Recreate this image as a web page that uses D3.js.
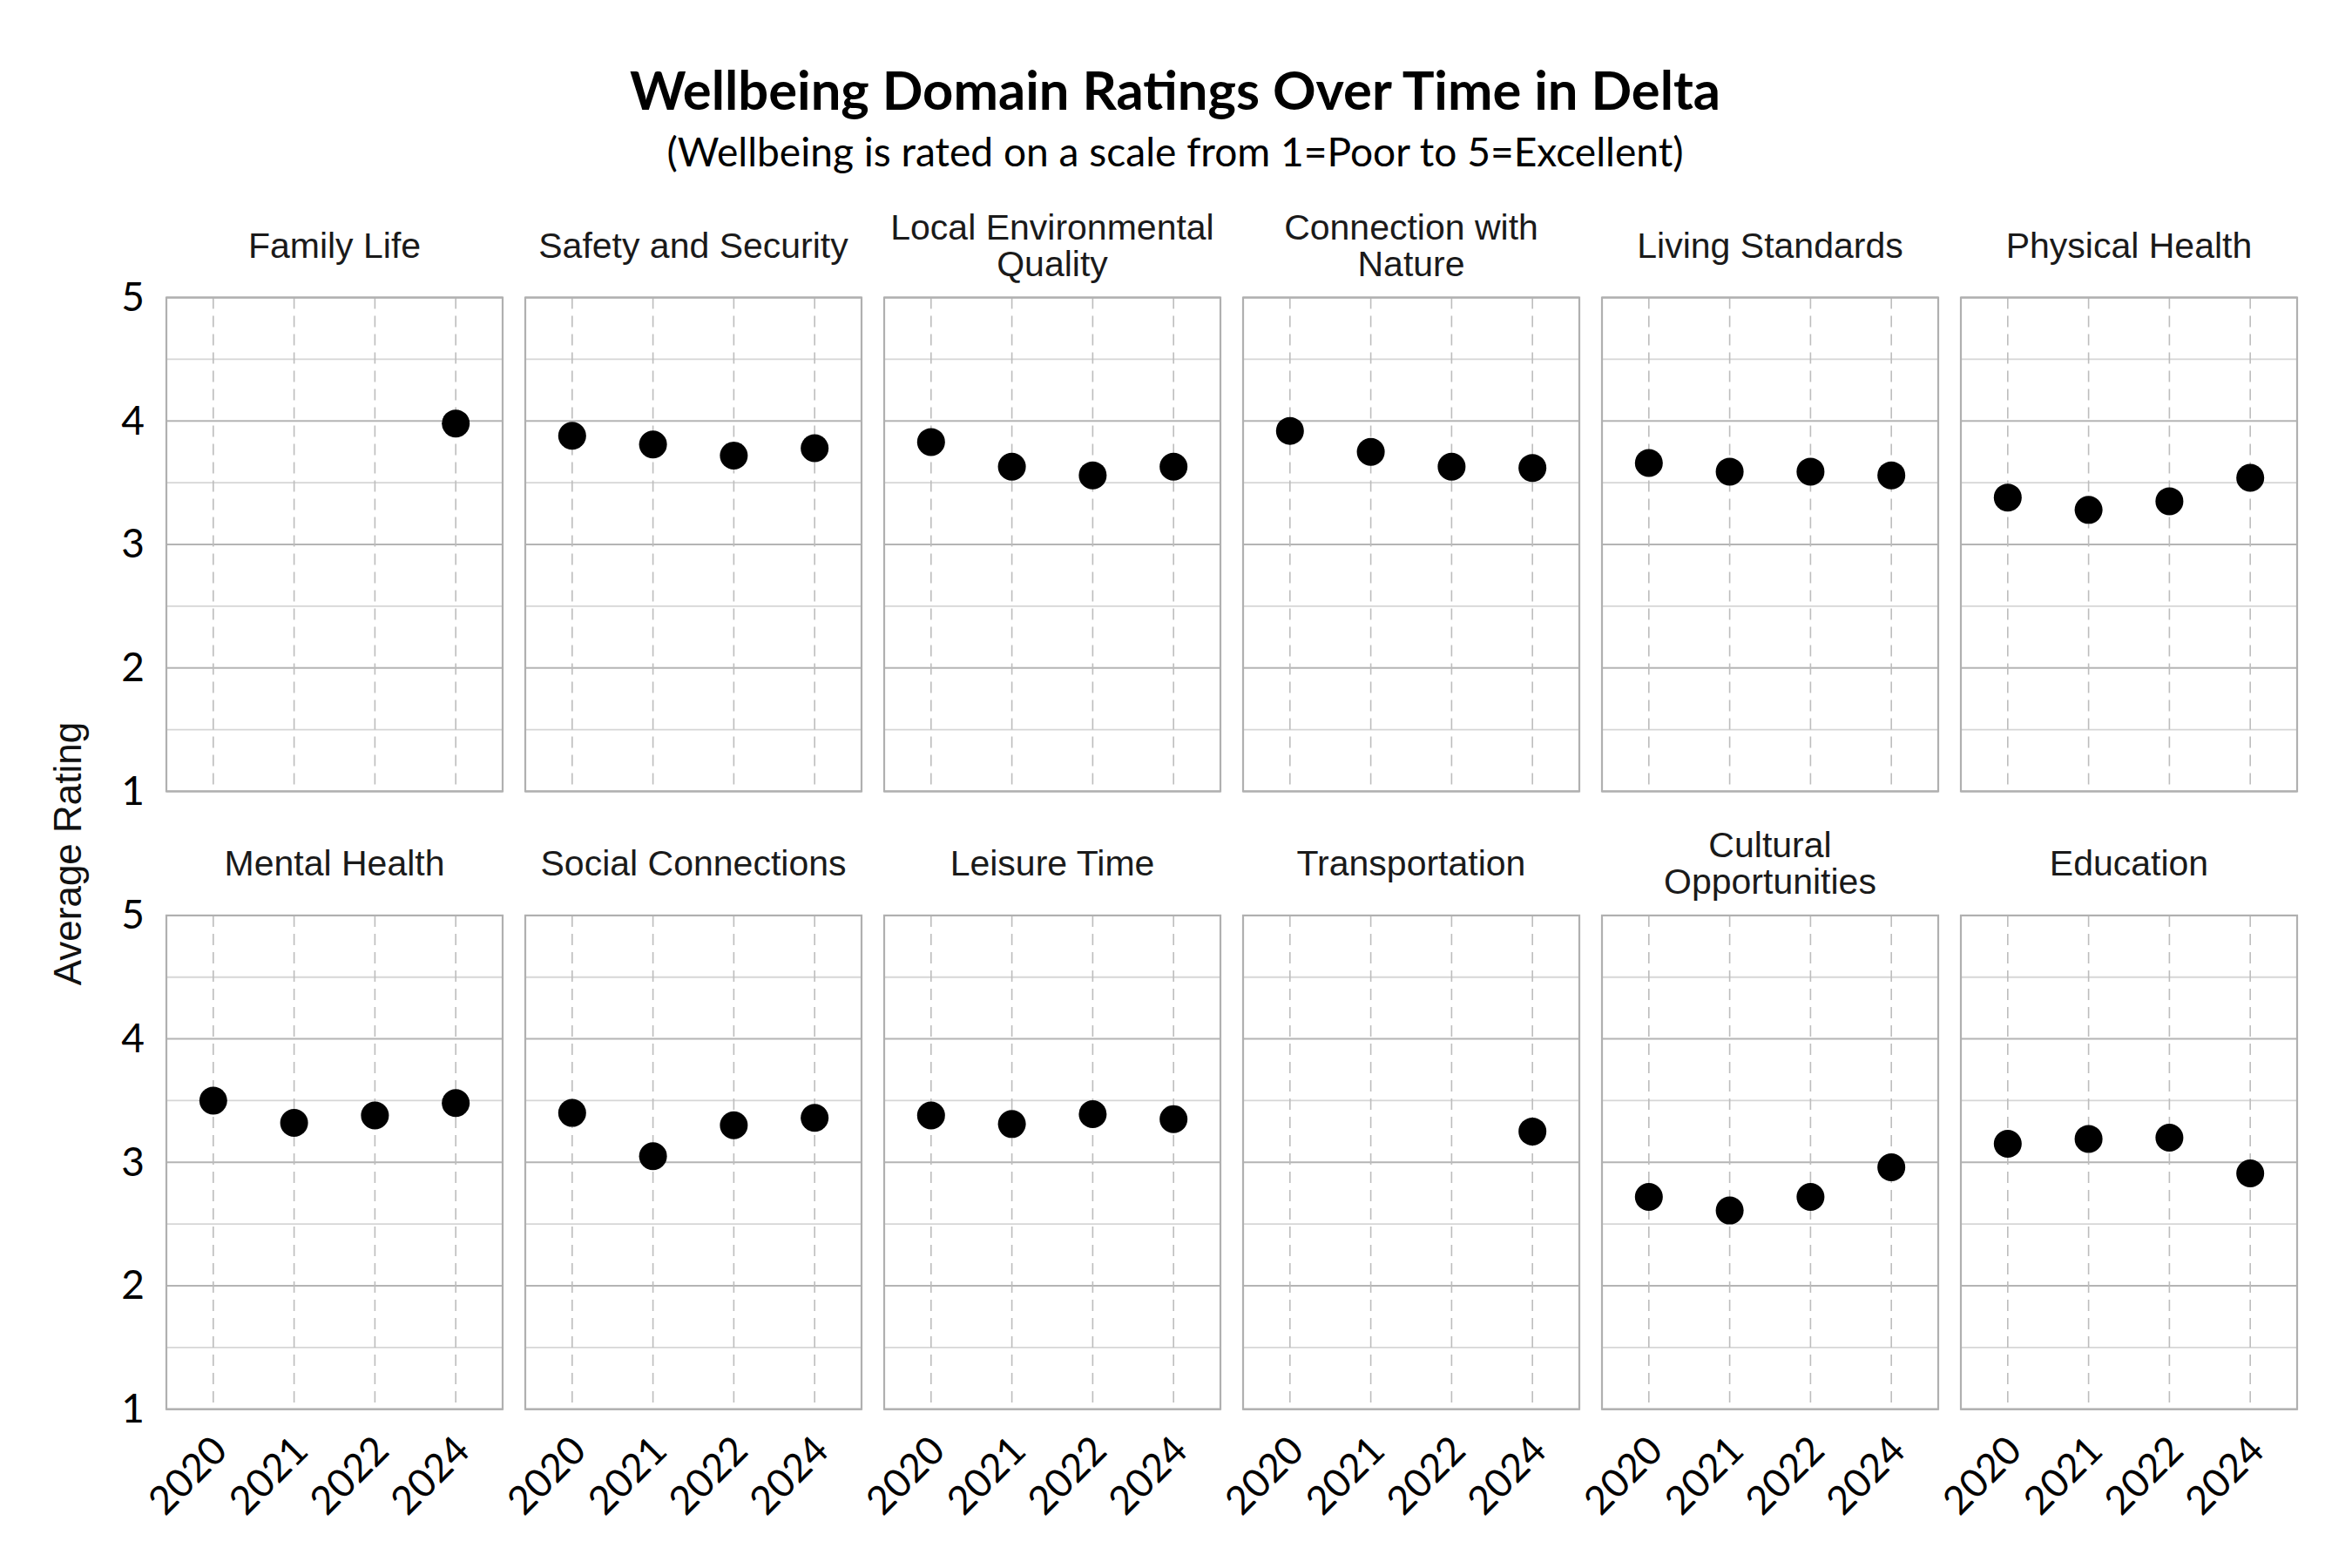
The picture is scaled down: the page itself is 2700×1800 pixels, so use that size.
<!DOCTYPE html>
<html>
<head>
<meta charset="utf-8">
<script src="https://cdn.jsdelivr.net/npm/d3@7"></script>
<style>
    body { margin: 0; background: #fff; }
    svg { display: block; }
</style>
</head>
<body>
<div id="chart"></div>
<script>
// chart data
var years = ["2020", "2021", "2022", "2024"];
var domains = [
    "Family Life", "Safety and Security", "Local Environmental Quality",
    "Connection with Nature", "Living Standards", "Physical Health",
    "Mental Health", "Social Connections", "Leisure Time",
    "Transportation", "Cultural Opportunities", "Education"
];
// titles that wrap on two lines
var domainLabels = [
    ["Family Life"], ["Safety and Security"], ["Local Environmental", "Quality"],
    ["Connection with", "Nature"], ["Living Standards"], ["Physical Health"],
    ["Mental Health"], ["Social Connections"], ["Leisure Time"],
    ["Transportation"], ["Cultural", "Opportunities"], ["Education"]
];
// one list per domain, same order as years (null = not asked that year)
var familyLife = [null, null, null, 3.98];
var safetySecurity = [3.88, 3.81, 3.72, 3.78];
var localEnvironment = [3.83, 3.63, 3.56, 3.63];
var connectionNature = [3.92, 3.75, 3.63, 3.62];
var livingStandards = [3.66, 3.59, 3.59, 3.56];
var physicalHealth = [3.38, 3.28, 3.35, 3.54];
var mentalHealth = [3.50, 3.32, 3.38, 3.48];
var socialConnections = [3.40, 3.05, 3.30, 3.36];
var leisureTime = [3.38, 3.31, 3.39, 3.35];
var transportation = [null, null, null, 3.25];
var culturalOpportunities = [2.72, 2.61, 2.72, 2.96];
var education = [3.15, 3.19, 3.20, 2.91];
var yTicks = [1, 2, 3, 4, 5];
var yMinor = [1.5, 2.5, 3.5, 4.5];

var title = "Wellbeing Domain Ratings Over Time in Delta";
var subtitle = "(Wellbeing is rated on a scale from 1=Poor to 5=Excellent)";
var yLabel = "Average Rating";

var series = [familyLife, safetySecurity, localEnvironment, connectionNature,
    livingStandards, physicalHealth, mentalHealth, socialConnections,
    leisureTime, transportation, culturalOpportunities, education];

var W = 2700, H = 1800;
var left0 = 191, top0 = 341.6;
var pw = 386, ph = 566.8;
var stepX = 412, stepY = 709.3;
var cols = 6;

var svg = d3.select("#chart").append("svg")
    .attr("width", W).attr("height", H);

// fits a text element to a target width by changing font size
function fitWidth(sel, target) {
    var fs = parseFloat(sel.attr("font-size"));
    var w = sel.node().getComputedTextLength();
    sel.attr("font-size", (fs * target / w).toFixed(2));
}

var t = svg.append("text")
    .attr("x", 1349).attr("y", 126)
    .attr("text-anchor", "middle")
    .attr("font-family", "Lato, 'Open Sans', sans-serif")
    .attr("font-weight", "bold")
    .attr("font-size", 60)
    .attr("fill", "#000")
    .text(title);
fitWidth(t, 1252);

var st = svg.append("text")
    .attr("x", 1349).attr("y", 191)
    .attr("text-anchor", "middle")
    .attr("font-family", "Lato, 'Open Sans', sans-serif")
    .attr("font-size", 46)
    .attr("fill", "#000")
    .text(subtitle);
fitWidth(st, 1167);

svg.append("text")
    .attr("transform", "translate(93,980) rotate(-90)")
    .attr("text-anchor", "middle")
    .attr("font-family", "'Liberation Sans', Arial, sans-serif")
    .attr("font-size", 44)
    .attr("fill", "#111")
    .text(yLabel);

var x = d3.scalePoint().domain(years).range([0, pw]).padding(0.58);
var y = d3.scaleLinear().domain([1, 5]).range([ph, 0]);

domains.forEach(function (name, i) {
    var c = i % cols, r = Math.floor(i / cols);
    var g = svg.append("g")
        .attr("transform", "translate(" + (left0 + c * stepX) + "," + (top0 + r * stepY) + ")");

    // minor gridlines
    g.selectAll(".minor").data(yMinor).enter().append("line")
        .attr("x1", 0).attr("x2", pw)
        .attr("y1", function (d) { return y(d); })
        .attr("y2", function (d) { return y(d); })
        .attr("stroke", "#d6d6d6").attr("stroke-width", 1.8);
    // major gridlines
    g.selectAll(".major").data(yTicks).enter().append("line")
        .attr("x1", 0).attr("x2", pw)
        .attr("y1", function (d) { return y(d); })
        .attr("y2", function (d) { return y(d); })
        .attr("stroke", "#b4b4b4").attr("stroke-width", 2);
    // dashed year lines
    g.selectAll(".vline").data(years).enter().append("line")
        .attr("x1", function (d) { return x(d); })
        .attr("x2", function (d) { return x(d); })
        .attr("y1", 0).attr("y2", ph)
        .attr("stroke", "#bdbdbd").attr("stroke-width", 1.6)
        .attr("stroke-dasharray", "13,8");

    g.append("rect")
        .attr("x", 0).attr("y", 0).attr("width", pw).attr("height", ph)
        .attr("fill", "none").attr("stroke", "#b0b0b0").attr("stroke-width", 2.2);

    // panel title
    var lines = domainLabels[i];
    var base = lines.length === 1 ? -46 : -67;
    g.append("text")
        .attr("text-anchor", "middle")
        .attr("font-family", "'Liberation Sans', Arial, sans-serif")
        .attr("font-size", 41)
        .attr("fill", "#1a1a1a")
        .selectAll("tspan").data(lines).enter().append("tspan")
        .attr("x", pw / 2)
        .attr("y", function (d, k) { return base + k * 42; })
        .text(function (d) { return d; });

    // points
    var pts = years.map(function (yr, k) { return {year: yr, v: series[i][k]}; })
        .filter(function (d) { return d.v !== null; });
    g.selectAll(".pt").data(pts).enter().append("circle")
        .attr("cx", function (d) { return x(d.year); })
        .attr("cy", function (d) { return y(d.v); })
        .attr("r", 16)
        .attr("fill", "#000");

    // y axis on first column
    if (c === 0) {
        var ya = g.append("g").call(d3.axisLeft(y).tickValues(yTicks).tickSize(0).tickPadding(25).tickFormat(d3.format("d")));
        ya.select(".domain").remove();
        ya.selectAll("text")
            .attr("font-family", "Lato, 'Open Sans', sans-serif")
            .attr("font-size", 46)
            .attr("fill", "#000");
    }
    // x axis on bottom row
    if (r === 1) {
        var xa = g.append("g").attr("transform", "translate(0," + ph + ")")
            .call(d3.axisBottom(x).tickSize(0).tickPadding(0));
        xa.select(".domain").remove();
        xa.selectAll("text")
            .attr("font-family", "Lato, 'Open Sans', sans-serif")
            .attr("font-size", 45)
            .attr("fill", "#000")
            .attr("text-anchor", "end")
            .attr("dy", null)
            .attr("y", null)
            .attr("transform", "translate(18,50) rotate(-45)");
    }
});
</script>
</body>
</html>
